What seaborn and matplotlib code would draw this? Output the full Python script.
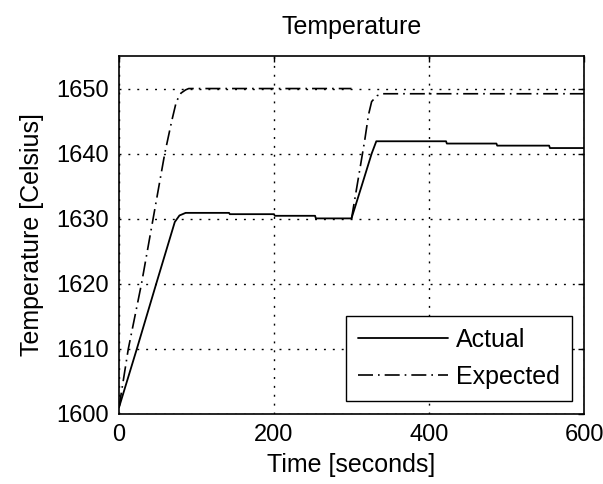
import pandas as pd
import matplotlib.pyplot as plt
import seaborn as sns

# values
actual_time = [0, 23, 48, 72, 78, 86, 142, 143, 200, 201, 253, 254, 300,
               313, 326, 332, 422, 423, 487, 488, 555, 556, 600]
actual_temp = [1601, 1610, 1620, 1629.5, 1630.5, 1630.9, 1630.9, 1630.7, 1630.7,
               1630.45, 1630.45, 1630.05, 1630.05, 1635, 1640, 1641.9, 1641.9,
               1641.55, 1641.55, 1641.23, 1641.23, 1640.86, 1640.86]

# expected profile, first heat-up
expected_time_1 = [0, 12, 29, 44, 59, 68, 74, 80, 86, 90, 300]
expected_temp_1 = [1601, 1610, 1620, 1630, 1640, 1645, 1648, 1649.3, 1649.8, 1650, 1650]
# expected profile, second heat-up
expected_time_2 = [300, 317, 322, 326, 333, 340, 600]
expected_temp_2 = [1630, 1642, 1646, 1648, 1648.9, 1649.2, 1649.2]

df_actual = pd.DataFrame({"Time [seconds]": actual_time, "Temperature [Celsius]": actual_temp})
df_exp1 = pd.DataFrame({"Time [seconds]": expected_time_1, "Temperature [Celsius]": expected_temp_1})
df_exp2 = pd.DataFrame({"Time [seconds]": expected_time_2, "Temperature [Celsius]": expected_temp_2})

sns.set_style("white")
plt.rcParams["font.family"] = ["Liberation Sans", "DejaVu Sans"]
plt.rcParams["font.size"] = 18
for key in ["text.color", "axes.labelcolor", "xtick.color", "ytick.color"]:
    plt.rcParams[key] = "black"

fig = plt.figure(figsize=(6.03, 4.84), dpi=100)
ax = fig.add_axes([119 / 603, 1 - 414 / 484, 465 / 603, 358 / 484])

dash_dot = (0, (9, 3, 1, 3))
sns.lineplot(x="Time [seconds]", y="Temperature [Celsius]", data=df_actual, color="black",
             linewidth=1.3, estimator=None, sort=False, label="Actual", ax=ax)
sns.lineplot(x="Time [seconds]", y="Temperature [Celsius]", data=df_exp1, color="black",
             linewidth=1.2, linestyle=dash_dot, estimator=None, sort=False, label="Expected", ax=ax)
sns.lineplot(x="Time [seconds]", y="Temperature [Celsius]", data=df_exp2, color="black",
             linewidth=1.2, linestyle=dash_dot, estimator=None, sort=False, label="_nolegend_", ax=ax)

ax.set_xlim(0, 600)
ax.set_ylim(1600, 1655)
ax.set_xticks([0, 200, 400, 600])
ax.set_yticks([1600, 1610, 1620, 1630, 1640, 1650])
ax.grid(True, color="black", linestyle=(0, (1.4, 5)), linewidth=1.0)
for s in ax.spines.values():
    s.set_color("black")
    s.set_linewidth(1.2)
ax.tick_params(direction="in", length=4, width=1, top=True, right=True, labelsize=17, pad=7,
               color="black")

ax.set_title("Temperature", fontsize=18, pad=16)
ax.set_xlabel("Time [seconds]", fontsize=18, labelpad=5)
ax.set_ylabel("Temperature [Celsius]", fontsize=18, labelpad=9)

handles = [ax.lines[0], ax.lines[1]]
leg = ax.legend(handles=handles, labels=["Actual", "Expected"], loc="lower right",
                bbox_to_anchor=(0.974, 0.036), borderaxespad=0, fancybox=False,
                edgecolor="black", framealpha=1, fontsize=18, handlelength=3.6,
                handletextpad=0.3, labelspacing=0.5, borderpad=0.5)
leg.get_frame().set_linewidth(1.0)

plt.savefig("out.png", dpi=100)
